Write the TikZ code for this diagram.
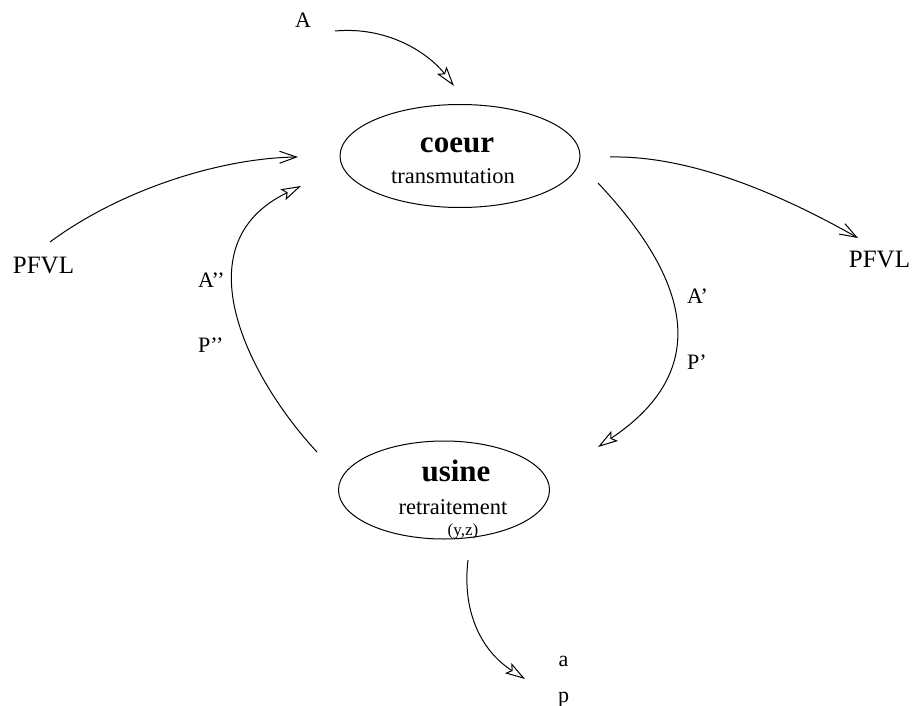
\documentclass[tikz,border=0pt]{standalone}
\usepackage{fontspec}
\setmainfont{Liberation Serif}
\usetikzlibrary{shapes.geometric,arrows.meta}
\tikzset{
  lbl/.style={font=\fontsize{22}{26}\selectfont, inner sep=0pt, anchor=base},
  lblw/.style={lbl, anchor=base west},
  big/.style={font=\fontsize{25}{29}\selectfont, inner sep=0pt, anchor=base},
  ttl/.style={font=\fontsize{31}{35}\selectfont\bfseries, inner sep=0pt, anchor=base},
  sub/.style={font=\fontsize{22.5}{26}\selectfont, inner sep=0pt, anchor=base},
  small/.style={font=\fontsize{17}{20}\selectfont, inner sep=0pt, anchor=base},
  blob/.style={ellipse, draw, line width=1pt, inner sep=0pt},
  conn/.style={line width=1pt},
  hol/.style={-{Stealth[open,length=20pt,width=12pt,inset=4pt]}},
  vee/.style={-{Straight Barb[length=17pt,width=12pt]}}
}
\begin{document}
\begin{tikzpicture}[x=1pt,y=-1pt]
\useasboundingbox (0,0) rectangle (913,706);
% ellipses
\node[blob, minimum width=240pt, minimum height=103pt] (coeur) at (460,156) {};
\node[blob, minimum width=211pt, minimum height=98pt] (usine) at (444,490) {};
% texts
\node[ttl] (tcoeur) at (457,153) {coeur};
\node[sub] (ttrans) at (453,183) {transmutation};
\node[ttl] (tusine) at (456,481) {usine};
\node[sub] (tretr) at (453,514) {retraitement};
\node[small] (tyz) at (463,535) {(y,z)};
\node[lbl] (A) at (303,28) {A};
\node[big] (pfvlL) at (43.5,273) {PFVL};
\node[big] (pfvlR) at (879.5,267) {PFVL};
\node[lblw] (App) at (198,287) {A’’};
\node[lblw] (Ppp) at (198,352) {P’’};
\node[lblw] (Ap) at (687,303) {A’};
\node[lblw] (Pp) at (687,369) {P’};
\node[lbl] (a) at (563.5,666) {a};
\node[lbl] (p) at (563.5,702) {p};
% connector end points
\coordinate (aS) at (335,31);   \coordinate (aE) at (454,86);
\coordinate (lS) at (50,242);   \coordinate (lE) at (298,157);
\coordinate (rS) at (610,157);  \coordinate (rE) at (858,238);
\coordinate (uS) at (317,452);  \coordinate (uE) at (301,186);
\coordinate (dS) at (598,183);  \coordinate (dE) at (598,447);
\coordinate (bS) at (468,560);  \coordinate (bE) at (525,679);
% connectors
\draw[conn, hol] (aS) .. controls (390,26) and (430,55) .. (aE);
\draw[conn, vee] (lS) .. controls (120,190) and (220,158) .. (lE);
\draw[conn, vee] (rS) .. controls (700,155) and (800,205) .. (rE);
\draw[conn, hol] (uS) .. controls (250,380) and (179,245) .. (uE);
\draw[conn, hol] (dS) .. controls (680,270) and (721,365) .. (dE);
\draw[conn, hol] (bS) .. controls (462,610) and (480,650) .. (bE);
\end{tikzpicture}
\end{document}
